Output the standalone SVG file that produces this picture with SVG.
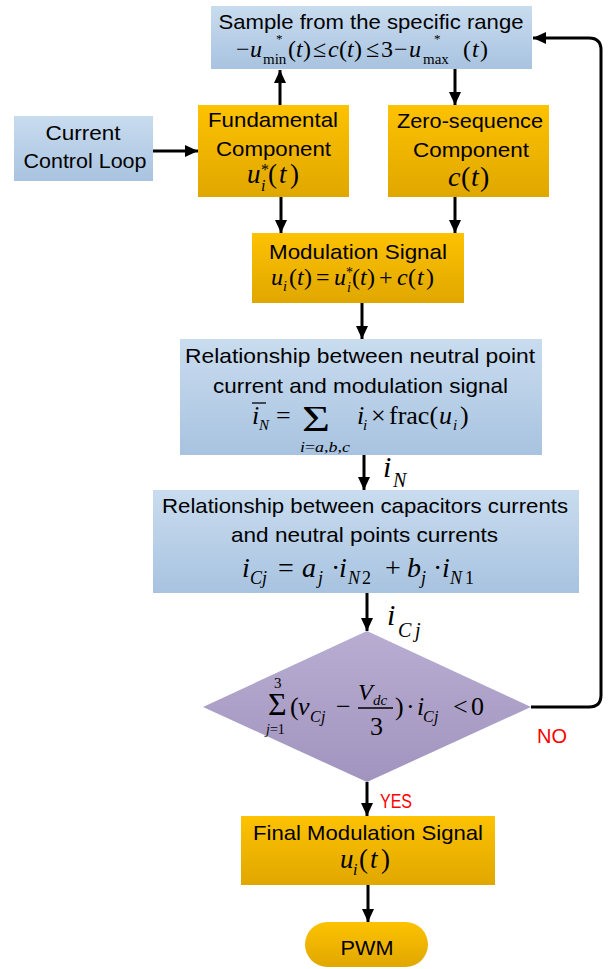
<svg xmlns="http://www.w3.org/2000/svg" width="614" height="969" viewBox="0 0 614 969">
<style>
.t{font-family:"Liberation Sans",Arial,sans-serif;font-size:21px;fill:#000;text-anchor:middle}
.lab{font-family:"Liberation Sans",Arial,sans-serif;font-size:20px;fill:#ff0000}
.m{font-family:"Liberation Serif","Times New Roman",serif;font-style:italic;fill:#000}
.r{font-style:normal}
.conn{stroke:#000;stroke-width:3;fill:none}
.bar{stroke:#000;stroke-width:1.3}
</style>
<defs>
<linearGradient id="gBlue" x1="0" y1="0" x2="0" y2="1"><stop offset="0" stop-color="#c9dcef"/><stop offset="1" stop-color="#a8c3e0"/></linearGradient>
<linearGradient id="gOrange" x1="0" y1="0" x2="0" y2="1"><stop offset="0" stop-color="#fdc200"/><stop offset="1" stop-color="#e0a700"/></linearGradient>
<linearGradient id="gPurple" x1="0" y1="0" x2="0" y2="1"><stop offset="0" stop-color="#b8add1"/><stop offset="1" stop-color="#a194bf"/></linearGradient>
<marker id="arrow" viewBox="0 0 13 12" markerWidth="13" markerHeight="12" refX="13" refY="6" orient="auto" markerUnits="userSpaceOnUse"><path d="M0,0 L13,6 L0,12 z" fill="#000"/></marker>
</defs>

<g id="connectors">
<path class="conn" d="M280,105 V70" marker-end="url(#arrow)"/>
<path class="conn" d="M455,69 V105" marker-end="url(#arrow)"/>
<path class="conn" d="M153,151 H198" marker-end="url(#arrow)"/>
<path class="conn" d="M281,197 V233" marker-end="url(#arrow)"/>
<path class="conn" d="M455,197 V233" marker-end="url(#arrow)"/>
<path class="conn" d="M362,303 V339" marker-end="url(#arrow)"/>
<path class="conn" d="M364,455 V490" marker-end="url(#arrow)"/>
<path class="conn" d="M367,593 V631" marker-end="url(#arrow)"/>
<path class="conn" d="M367,782 V816" marker-end="url(#arrow)"/>
<path class="conn" d="M368,885 V922" marker-end="url(#arrow)"/>
<path class="conn" d="M531,707 H589 Q601,707 601,695 V50 Q601,38 589,38 H533" marker-end="url(#arrow)"/>
<text class="lab" x="380" y="808" textLength="32" lengthAdjust="spacingAndGlyphs">YES</text>
<text class="lab" x="537" y="743" textLength="30" lengthAdjust="spacingAndGlyphs">NO</text>
<text class="m" font-size="30" y="477"><tspan x="383">i</tspan><tspan x="393" y="487" font-size="20">N</tspan></text>
<text class="m" font-size="30" y="625"><tspan x="387">i</tspan><tspan x="398" y="637" font-size="20">C</tspan><tspan x="415" y="637" font-size="20">j</tspan></text>
</g>

<g id="sample-range">
<rect x="211" y="6" width="321" height="63" fill="url(#gBlue)"/>
<text class="t" x="371" y="29" textLength="305" lengthAdjust="spacingAndGlyphs">Sample from the specific range</text>
<text class="m" font-size="24" y="57"><tspan class="r" x="236">−</tspan><tspan x="250">u</tspan><tspan class="r" x="276" y="43" font-size="13">*</tspan><tspan class="r" x="263" y="64" font-size="15">min</tspan><tspan class="r" x="288" y="57">(</tspan><tspan x="296">t</tspan><tspan class="r" x="303">)</tspan><tspan class="r" x="313">≤</tspan><tspan x="328">c</tspan><tspan class="r" x="339">(</tspan><tspan x="347">t</tspan><tspan class="r" x="354">)</tspan><tspan class="r" x="366">≤</tspan><tspan class="r" x="381">3</tspan><tspan class="r" x="394">−</tspan><tspan x="409">u</tspan><tspan class="r" x="434" y="43" font-size="13">*</tspan><tspan class="r" x="423" y="64" font-size="15">max</tspan><tspan class="r" x="463" y="57">(</tspan><tspan x="472">t</tspan><tspan class="r" x="480">)</tspan></text>
</g>

<g id="current-control-loop">
<rect x="14" y="116" width="139" height="65" fill="url(#gBlue)"/>
<text class="t" x="83" y="140" textLength="75" lengthAdjust="spacingAndGlyphs">Current</text>
<text class="t" x="85" y="168" textLength="123" lengthAdjust="spacingAndGlyphs">Control Loop</text>
</g>

<g id="fundamental-component">
<rect x="198" y="105" width="151" height="92" fill="url(#gOrange)"/>
<text class="t" x="273" y="127" textLength="130" lengthAdjust="spacingAndGlyphs">Fundamental</text>
<text class="t" x="273.5" y="156" textLength="115" lengthAdjust="spacingAndGlyphs">Component</text>
<text class="m" font-size="27" y="183"><tspan x="247">u</tspan><tspan class="r" x="261" y="175" font-size="16">*</tspan><tspan x="261" y="191" font-size="16">i</tspan><tspan class="r" x="268" y="183">(</tspan><tspan x="279">t</tspan><tspan class="r" x="290">)</tspan></text>
</g>

<g id="zero-sequence-component">
<rect x="388" y="105" width="161" height="92" fill="url(#gOrange)"/>
<text class="t" x="470" y="128" textLength="146" lengthAdjust="spacingAndGlyphs">Zero-sequence</text>
<text class="t" x="471" y="157" textLength="116" lengthAdjust="spacingAndGlyphs">Component</text>
<text class="m" font-size="28" y="186"><tspan x="448">c</tspan><tspan class="r" x="461">(</tspan><tspan x="471">t</tspan><tspan class="r" x="480">)</tspan></text>
</g>

<g id="modulation-signal">
<rect x="252" y="233" width="212" height="70" fill="url(#gOrange)"/>
<text class="t" x="358" y="259" textLength="178" lengthAdjust="spacingAndGlyphs">Modulation Signal</text>
<text class="m" font-size="24" y="285"><tspan x="271">u</tspan><tspan x="283" y="291" font-size="14">i</tspan><tspan class="r" x="289" y="285">(</tspan><tspan x="297">t</tspan><tspan class="r" x="304">)</tspan><tspan class="r" x="316">=</tspan><tspan x="334">u</tspan><tspan class="r" x="346" y="277" font-size="14">*</tspan><tspan x="347" y="292" font-size="14">i</tspan><tspan class="r" x="352" y="285">(</tspan><tspan x="360">t</tspan><tspan class="r" x="367">)</tspan><tspan class="r" x="379">+</tspan><tspan x="397">c</tspan><tspan class="r" x="408">(</tspan><tspan x="417">t</tspan><tspan class="r" x="426">)</tspan></text>
</g>

<g id="neutral-point-relationship">
<rect x="180" y="339" width="362" height="116" fill="url(#gBlue)"/>
<text class="t" x="360" y="363" textLength="350" lengthAdjust="spacingAndGlyphs">Relationship between neutral point</text>
<text class="t" x="360.5" y="393" textLength="295" lengthAdjust="spacingAndGlyphs">current and modulation signal</text>
<line class="bar" x1="252" y1="403" x2="266" y2="403"/>
<text class="m" font-size="26" y="424"><tspan x="252">i</tspan><tspan x="259" y="430" font-size="15">N</tspan><tspan class="r" x="276" y="424">=</tspan><tspan x="357">i</tspan><tspan x="363" y="430" font-size="15">i</tspan><tspan class="r" x="371" y="424">×</tspan><tspan class="r" x="389">frac(</tspan><tspan x="439">u</tspan><tspan x="453" y="430" font-size="15">i</tspan><tspan class="r" x="460" y="424">)</tspan></text>
<text class="m r" font-size="36" x="302" y="431" textLength="28" lengthAdjust="spacingAndGlyphs">Σ</text>
<text class="m" font-size="14" x="300" y="452" textLength="50" lengthAdjust="spacingAndGlyphs">i<tspan class="r">=</tspan>a<tspan class="r">,</tspan>b<tspan class="r">,</tspan>c</text>
</g>

<g id="capacitor-currents-relationship">
<rect x="153" y="490" width="426" height="103" fill="url(#gBlue)"/>
<text class="t" x="365" y="513" textLength="406" lengthAdjust="spacingAndGlyphs">Relationship between capacitors currents</text>
<text class="t" x="364.5" y="542" textLength="267" lengthAdjust="spacingAndGlyphs">and neutral points currents</text>
<text class="m" font-size="28" y="577"><tspan x="242">i</tspan><tspan x="250" y="584" font-size="18">C</tspan><tspan x="262" y="584" font-size="18">j</tspan><tspan class="r" x="278" y="577">=</tspan><tspan x="302">a</tspan><tspan x="318" y="584" font-size="18">j</tspan><tspan class="r" x="331" y="577">·</tspan><tspan x="339">i</tspan><tspan x="348" y="584" font-size="18">N</tspan><tspan class="r" x="362" y="584" font-size="18">2</tspan><tspan class="r" x="385" y="577">+</tspan><tspan x="407">b</tspan><tspan x="421" y="584" font-size="18">j</tspan><tspan class="r" x="433" y="577">·</tspan><tspan x="442">i</tspan><tspan x="450" y="584" font-size="18">N</tspan><tspan class="r" x="465" y="584" font-size="18">1</tspan></text>
</g>

<g id="decision">
<polygon points="367,631 531,707 367,782 203,707" fill="url(#gPurple)"/>
<text class="m r" font-size="15" x="274" y="688">3</text>
<text class="m r" font-size="32" x="268" y="715">Σ</text>
<text class="m" font-size="14" x="266" y="734">j<tspan class="r">=1</tspan></text>
<text class="m" font-size="26" y="715"><tspan class="r" x="290">(</tspan><tspan x="298">v</tspan><tspan x="310" y="722" font-size="16">C</tspan><tspan x="321" y="722" font-size="16">j</tspan><tspan class="r" x="336" y="715">−</tspan><tspan x="358" y="700" font-size="24">V</tspan><tspan x="373" y="705" font-size="15">dc</tspan><tspan class="r" x="370" y="735">3</tspan><tspan class="r" x="395" y="715">)</tspan><tspan class="r" x="406">·</tspan><tspan x="417">i</tspan><tspan x="423" y="722" font-size="16">C</tspan><tspan x="434" y="722" font-size="16">j</tspan><tspan class="r" x="453" y="715">&lt;</tspan><tspan class="r" x="471">0</tspan></text>
<line class="bar" x1="358" y1="708" x2="393" y2="708"/>
</g>

<g id="final-modulation-signal">
<rect x="241" y="816" width="254" height="69" fill="url(#gOrange)"/>
<text class="t" x="368" y="840" textLength="230" lengthAdjust="spacingAndGlyphs">Final Modulation Signal</text>
<text class="m" font-size="27" y="868"><tspan x="340">u</tspan><tspan x="353" y="875" font-size="16">i</tspan><tspan class="r" x="359" y="868">(</tspan><tspan x="370">t</tspan><tspan class="r" x="381">)</tspan></text>
</g>

<g id="pwm">
<rect x="305" y="922" width="123" height="45" rx="22.5" fill="url(#gOrange)"/>
<text class="t" x="367" y="955" textLength="53" lengthAdjust="spacingAndGlyphs">PWM</text>
</g>
</svg>
